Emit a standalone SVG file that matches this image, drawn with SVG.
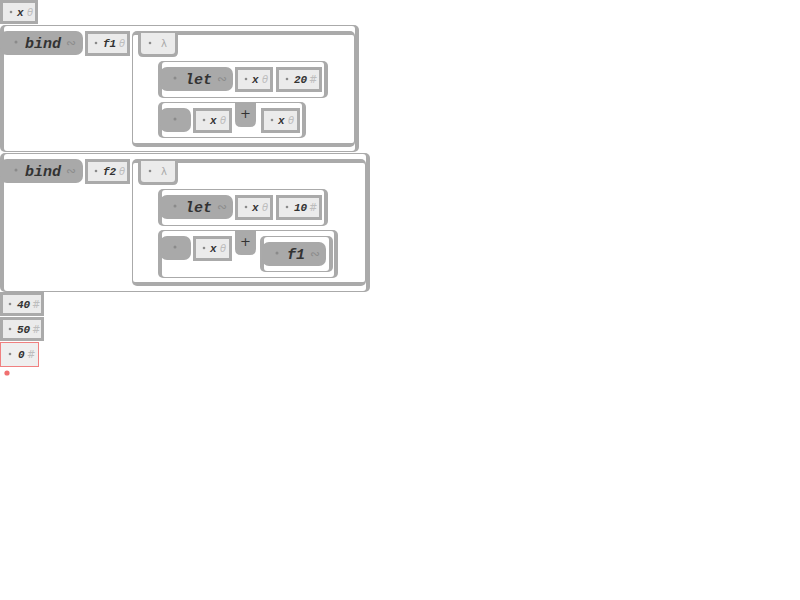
<svg xmlns="http://www.w3.org/2000/svg" width="800" height="600" viewBox="0 0 800 600">
  <style>
    .frame { fill: #aaaaaa; }
    .hole { fill: #ffffff; }
    .atom { fill: #ebebeb; stroke: #aaaaaa; stroke-width: 3; }
    .err { fill: #efefef; stroke: #f08080; stroke-width: 1; }
    .pill { fill: #a9a9a9; }
    .tabfill { fill: #ebebeb; }
    .dot { fill: #8a8a8a; }
    .name { font-family: "Liberation Mono", "DejaVu Sans Mono", monospace; font-weight: bold; font-style: italic; fill: #333333; }
    .big { font-size: 15px; }
    .small { font-size: 11px; }
    .kind { font-family: "DejaVu Sans", "Liberation Sans", sans-serif; fill: #bdbdbd; font-size: 10px; }
    .fkind { font-family: "DejaVu Sans", "Liberation Sans", sans-serif; fill: #8c8c8c; font-size: 12px; }
    .lam { font-family: "DejaVu Sans", "Liberation Sans", sans-serif; fill: #a8a8a8; font-size: 10px; }
    .op { font-family: "DejaVu Sans", "Liberation Sans", sans-serif; fill: #333333; font-size: 13px; }
  </style>

  <!-- symbol x -->
  <g id="atom-x-top">
    <rect class="atom" x="1.5" y="1.5" width="35" height="21"/>
    <circle class="dot" cx="11" cy="12" r="1.3"/>
    <text class="name small" x="17" y="16">x</text>
    <text class="kind" x="27" y="16" font-style="italic">θ</text>
  </g>

  <!-- (bind f1 (λ (let x 20) (+ x x))) -->
  <g id="bind-1">
    <rect class="frame" x="0" y="25" width="359" height="127" rx="5"/>
    <rect class="hole" x="4" y="26" width="351" height="125" rx="3"/>
    <g id="bind-1-head">
      <rect class="pill" x="0" y="31" width="83" height="24" rx="7"/>
      <circle class="dot" cx="16" cy="42" r="1.5"/>
      <text class="name big" x="25" y="48">bind</text>
      <text class="fkind" x="66" y="47">∾</text>
    </g>
    <g id="atom-f1">
      <rect class="atom" x="86.5" y="32.5" width="42" height="22"/>
      <circle class="dot" cx="96" cy="43" r="1.3"/>
      <text class="name small" x="103" y="47">f1</text>
      <text class="kind" x="119" y="47" font-style="italic">θ</text>
    </g>
    <g id="lambda-1">
      <rect class="frame" x="132" y="31" width="223" height="116" rx="5"/>
      <rect class="hole" x="133" y="35" width="221" height="108" rx="2"/>
      <g id="lambda-1-tab">
        <path class="frame" d="M138 31 H178 V52 Q178 57 173 57 H143 Q138 57 138 52 Z"/>
        <path class="tabfill" d="M141 33 H175 V51 Q175 54 172 54 H144 Q141 54 141 51 Z"/>
        <circle class="dot" cx="150" cy="43" r="1.3"/>
        <text class="lam" x="161" y="47">λ</text>
      </g>
      <g id="let-1">
        <rect class="frame" x="158" y="61" width="170" height="37" rx="5"/>
        <rect class="hole" x="162" y="62" width="162" height="35" rx="3"/>
        <rect class="pill" x="160" y="67" width="73" height="24" rx="7"/>
        <circle class="dot" cx="175" cy="78" r="1.5"/>
        <text class="name big" x="185" y="84">let</text>
        <text class="fkind" x="217" y="83">∾</text>
        <rect class="atom" x="236.5" y="68.5" width="35" height="22"/>
        <circle class="dot" cx="246" cy="79" r="1.3"/>
        <text class="name small" x="252" y="83">x</text>
        <text class="kind" x="262" y="83" font-style="italic">θ</text>
        <rect class="atom" x="277.5" y="68.5" width="43" height="22"/>
        <circle class="dot" cx="287" cy="79" r="1.3"/>
        <text class="name small" x="294" y="83">20</text>
        <text class="kind" x="309" y="83">#</text>
      </g>
      <g id="sum-1">
        <rect class="frame" x="158" y="102" width="148" height="36" rx="5"/>
        <rect class="hole" x="162" y="103" width="140" height="34" rx="3"/>
        <rect class="pill" x="160" y="108" width="31" height="24" rx="7"/>
        <circle class="dot" cx="175" cy="119" r="1.5"/>
        <rect class="atom" x="194.5" y="109.5" width="36" height="22"/>
        <circle class="dot" cx="204" cy="120" r="1.3"/>
        <text class="name small" x="210" y="124">x</text>
        <text class="kind" x="220" y="124" font-style="italic">θ</text>
        <path class="frame" d="M235 102 H256 V121 Q256 127 250 127 H241 Q235 127 235 121 Z"/>
        <text class="op" x="245.5" y="118" text-anchor="middle">+</text>
        <rect class="atom" x="262.5" y="109.5" width="36" height="22"/>
        <circle class="dot" cx="272" cy="120" r="1.3"/>
        <text class="name small" x="278" y="124">x</text>
        <text class="kind" x="288" y="124" font-style="italic">θ</text>
      </g>
    </g>
  </g>

  <!-- (bind f2 (λ (let x 10) (+ x (f1)))) -->
  <g id="bind-2">
    <rect class="frame" x="0" y="153" width="370" height="139" rx="5"/>
    <rect class="hole" x="4" y="154" width="362" height="137" rx="3"/>
    <g id="bind-2-head">
      <rect class="pill" x="0" y="159" width="83" height="24" rx="7"/>
      <circle class="dot" cx="16" cy="170" r="1.5"/>
      <text class="name big" x="25" y="176">bind</text>
      <text class="fkind" x="66" y="175">∾</text>
    </g>
    <g id="atom-f2">
      <rect class="atom" x="86.5" y="160.5" width="42" height="22"/>
      <circle class="dot" cx="96" cy="171" r="1.3"/>
      <text class="name small" x="103" y="175">f2</text>
      <text class="kind" x="119" y="175" font-style="italic">θ</text>
    </g>
    <g id="lambda-2">
      <rect class="frame" x="132" y="159" width="234" height="127" rx="5"/>
      <rect class="hole" x="133" y="163" width="232" height="119" rx="2"/>
      <g id="lambda-2-tab">
        <path class="frame" d="M138 159 H178 V180 Q178 185 173 185 H143 Q138 185 138 180 Z"/>
        <path class="tabfill" d="M141 161 H175 V179 Q175 182 172 182 H144 Q141 182 141 179 Z"/>
        <circle class="dot" cx="150" cy="171" r="1.3"/>
        <text class="lam" x="161" y="175">λ</text>
      </g>
      <g id="let-2">
        <rect class="frame" x="158" y="189" width="170" height="37" rx="5"/>
        <rect class="hole" x="162" y="190" width="162" height="35" rx="3"/>
        <rect class="pill" x="160" y="195" width="73" height="24" rx="7"/>
        <circle class="dot" cx="175" cy="206" r="1.5"/>
        <text class="name big" x="185" y="212">let</text>
        <text class="fkind" x="217" y="211">∾</text>
        <rect class="atom" x="236.5" y="196.5" width="35" height="22"/>
        <circle class="dot" cx="246" cy="207" r="1.3"/>
        <text class="name small" x="252" y="211">x</text>
        <text class="kind" x="262" y="211" font-style="italic">θ</text>
        <rect class="atom" x="277.5" y="196.5" width="43" height="22"/>
        <circle class="dot" cx="287" cy="207" r="1.3"/>
        <text class="name small" x="294" y="211">10</text>
        <text class="kind" x="309" y="211">#</text>
      </g>
      <g id="sum-2">
        <rect class="frame" x="158" y="230" width="180" height="48" rx="5"/>
        <rect class="hole" x="162" y="231" width="172" height="46" rx="3"/>
        <rect class="pill" x="160" y="236" width="31" height="24" rx="7"/>
        <circle class="dot" cx="175" cy="247" r="1.5"/>
        <rect class="atom" x="194.5" y="237.5" width="36" height="22"/>
        <circle class="dot" cx="204" cy="248" r="1.3"/>
        <text class="name small" x="210" y="252">x</text>
        <text class="kind" x="220" y="252" font-style="italic">θ</text>
        <path class="frame" d="M235 230 H256 V249 Q256 255 250 255 H241 Q235 255 235 249 Z"/>
        <text class="op" x="245.5" y="246" text-anchor="middle">+</text>
        <g id="call-f1">
          <rect class="frame" x="260" y="236" width="73" height="36" rx="5"/>
          <rect class="hole" x="264" y="237" width="65" height="34" rx="3"/>
          <rect class="pill" x="262" y="242" width="64" height="24" rx="7"/>
          <circle class="dot" cx="277" cy="253" r="1.5"/>
          <text class="name big" x="287" y="259">f1</text>
          <text class="fkind" x="310" y="258">∾</text>
        </g>
      </g>
    </g>
  </g>

  <!-- results -->
  <g id="num-40">
    <rect class="atom" x="1.5" y="293.5" width="41" height="21"/>
    <circle class="dot" cx="10" cy="304" r="1.3"/>
    <text class="name small" x="17" y="308">40</text>
    <text class="kind" x="32" y="308">#</text>
  </g>
  <g id="num-50">
    <rect class="atom" x="1.5" y="318.5" width="41" height="21"/>
    <circle class="dot" cx="10" cy="329" r="1.3"/>
    <text class="name small" x="17" y="333">50</text>
    <text class="kind" x="32" y="333">#</text>
  </g>
  <g id="num-0">
    <rect class="err" x="0.5" y="342.5" width="38" height="24"/>
    <circle class="dot" cx="10" cy="354" r="1.3"/>
    <text class="name small" x="18" y="358">0</text>
    <text class="kind" x="27" y="358">#</text>
  </g>
  <circle id="cursor" cx="7" cy="373" r="2.6" fill="#f07070"/>
</svg>
